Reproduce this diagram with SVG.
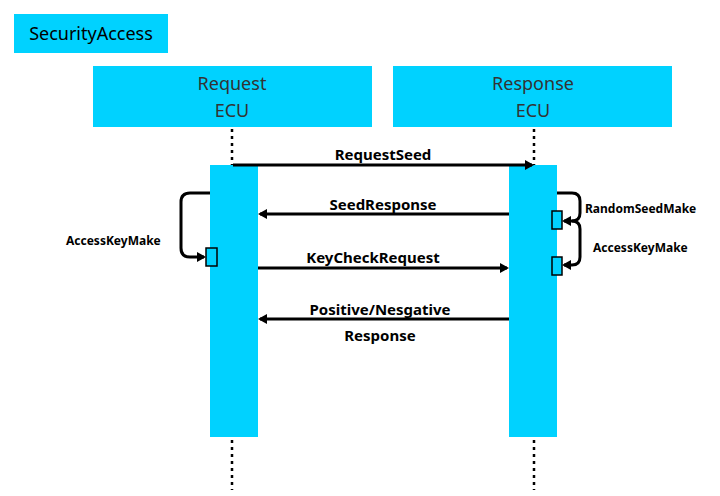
<svg xmlns="http://www.w3.org/2000/svg" width="720" height="496" viewBox="0 0 720 496">
<style>
.box{fill:#00d2ff}
.hd{font-family:"Noto Sans","Open Sans",sans-serif;font-size:18px;fill:#333;text-anchor:middle}
.lb{font-family:"Noto Sans","Open Sans",sans-serif;font-size:15px;font-weight:bold;fill:#000;text-anchor:middle}
.sm{font-family:"Noto Sans","Open Sans",sans-serif;font-size:12px;font-weight:bold;fill:#000}
.ln{stroke:#000;stroke-width:3;fill:none}
.dt{stroke:#000;stroke-width:2.5;stroke-dasharray:3 4;fill:none}
.act{fill:#00d2ff;stroke:#000;stroke-width:1.5}
</style>
<defs><marker id="a" markerWidth="10" markerHeight="10" refX="7" refY="5" orient="auto" markerUnits="userSpaceOnUse"><path d="M0,0 L9,5 L0,10 Z" fill="#000"/></marker></defs>
<g id="title"><rect class="box" x="14" y="14" width="154" height="39"/><text x="91" y="40" class="hd" style="fill:#000">SecurityAccess</text></g>
<g id="req"><rect class="box" x="93" y="66" width="279" height="61"/><text x="232" y="90" class="hd">Request</text><text x="232" y="117" class="hd">ECU</text>
<rect class="box" x="210" y="165" width="48" height="272"/></g>
<g id="resp"><rect class="box" x="393" y="66" width="279" height="61"/><text x="533" y="90" class="hd">Response</text><text x="533" y="117" class="hd">ECU</text>
<rect class="box" x="509" y="165" width="48" height="272"/></g>
<g id="connectors">
<path class="dt" d="M232,129 V165 M232,440 V490 M534,129 V165 M534,440 V490"/>
<path class="ln" d="M233,165 H532" marker-end="url(#a)"/>
<path class="ln" d="M509,214 H260" marker-end="url(#a)"/>
<path class="ln" d="M258,268 H507" marker-end="url(#a)"/>
<path class="ln" d="M509,319 H260" marker-end="url(#a)"/>
<path class="ln" d="M210,193 H190 Q181,193 181,202 V248 Q181,257 190,257 H204" marker-end="url(#a)"/>
<path class="ln" d="M557,193 H572 Q580,193 580,201 V213 Q580,221 572,221 H564" marker-end="url(#a)"/>
<path class="ln" d="M572,221 Q580,221 580,229 V257 Q580,265 572,265 H564" marker-end="url(#a)"/>
</g>
<g id="acts"><rect class="act" x="206" y="248" width="11" height="18"/><rect class="act" x="552" y="211" width="10" height="18"/><rect class="act" x="552" y="257" width="10" height="18"/></g>
<g id="labels">
<text x="383" y="160" class="lb">RequestSeed</text>
<text x="383" y="210" class="lb">SeedResponse</text>
<text x="373" y="263" class="lb">KeyCheckRequest</text>
<text x="380" y="315" class="lb">Positive/Nesgative</text>
<text x="380" y="341" class="lb">Response</text>
<text x="66" y="245" class="sm">AccessKeyMake</text>
<text x="585" y="213" class="sm">RandomSeedMake</text>
<text x="593" y="252" class="sm">AccessKeyMake</text>
</g>
</svg>
